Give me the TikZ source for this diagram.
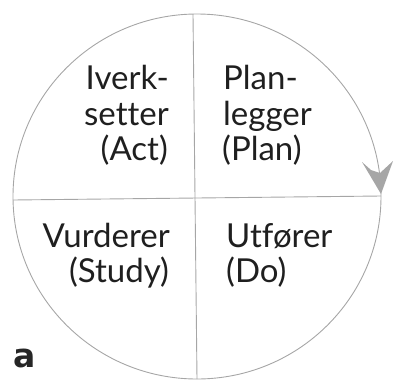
\documentclass[tikz,border=0pt]{standalone}
\usepackage{fontspec}
\setmainfont[Ligatures=NoCommon]{Lato}
\newfontfamily\labelfont{DejaVu Sans}
\begin{document}
\begin{tikzpicture}[x=1bp,y=-1bp,
  ln/.style={draw=black!35,line width=0.9bp},
  txt/.style={inner sep=0pt,text=black!88,font=\fontsize{33bp}{36bp}\selectfont},
  lt/.style={txt,anchor=base east},
  rt/.style={txt,anchor=base west}]
\useasboundingbox (0,0) rectangle (401,381);
% circle
\draw[ln] (197,196.5) ellipse [x radius=184, y radius=182.5];
% cross lines
\coordinate (t) at (193,14);
\coordinate (b) at (197,379);
\coordinate (l) at (13,200);
\coordinate (r) at (381,196);
\draw[ln] (t) -- (b);
\draw[ln] (l) -- (r);
% arrow head
\fill[black!35] (362,162) -- (371,170) -- (380,173) -- (393,161) -- (381,194) -- cycle;
% texts
\node[lt] (i1) at (169,89) {Iverk-};
\node[lt] (i2) at (169,125) {setter};
\node[lt] (i3) at (168,160) {(Act)};
\node[rt] (p1) at (223,89) {Plan-};
\node[rt] (p2) at (223,125) {legger};
\node[rt] (p3) at (222,160) {(Plan)};
\node[lt] (v1) at (170,247) {Vurderer};
\node[lt] (v2) at (169,282) {(Study)};
\node[rt] (u1) at (226,247) {Utfører};
\node[rt] (u2) at (226,282) {(Do)};
\node[inner sep=0pt,anchor=base west,font=\labelfont\bfseries\fontsize{33bp}{36bp}\selectfont,text=black!85] (a) at (13,367) {a};
\end{tikzpicture}
\end{document}
